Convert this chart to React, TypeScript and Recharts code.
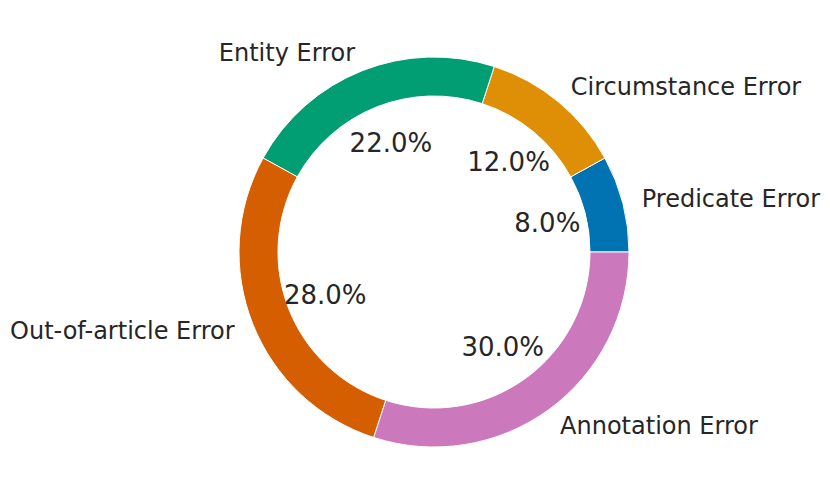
import { PieChart, Pie, Cell } from "recharts";

const categories = [
  "Predicate Error",
  "Circumstance Error",
  "Entity Error",
  "Out-of-article Error",
  "Annotation Error",
];
const shares = [8, 12, 22, 28, 30];
const colors = ["#0173b2", "#de8f05", "#029e73", "#d55e00", "#cc78bc"];

const data = categories.map((name, i) => ({ name, value: shares[i] }));

const RADIAN = Math.PI / 180;
const OUTER = 195;
const TEXT = "#262626";

function renderLabel(props: any) {
  const { cx, cy, midAngle, percent, name } = props;
  const cos = Math.cos(-midAngle * RADIAN);
  const sin = Math.sin(-midAngle * RADIAN);
  const pr = OUTER * 0.6;
  const lr = OUTER * 1.1;
  return (
    <g>
      <text
        x={cx + pr * cos}
        y={cy + pr * sin}
        fill={TEXT}
        fontSize={26}
        textAnchor="middle"
        dominantBaseline="central"
      >
        {`${(percent * 100).toFixed(1)}%`}
      </text>
      <text
        x={cx + lr * cos}
        y={cy + lr * sin}
        fill={TEXT}
        fontSize={24}
        textAnchor={cos >= 0 ? "start" : "end"}
        dominantBaseline="central"
      >
        {name}
      </text>
    </g>
  );
}

export default function App() {
  return (
    <div
      style={{
        position: "absolute",
        left: 0,
        top: 0,
        width: 830,
        height: 504,
        background: "#fff",
        fontFamily: "'DejaVu Sans', sans-serif",
      }}
    >
      <PieChart
        width={830}
        height={504}
        margin={{ top: 0, right: 0, bottom: 0, left: 0 }}
      >
        <Pie
          data={data}
          dataKey="value"
          nameKey="name"
          cx={434}
          cy={252}
          outerRadius={OUTER}
          innerRadius={OUTER * 0.8}
          startAngle={0}
          endAngle={360}
          stroke="#ffffff"
          strokeWidth={1}
          label={renderLabel}
          labelLine={false}
          isAnimationActive={false}
        >
          {data.map((d, i) => (
            <Cell key={d.name} fill={colors[i]} />
          ))}
        </Pie>
      </PieChart>
    </div>
  );
}
